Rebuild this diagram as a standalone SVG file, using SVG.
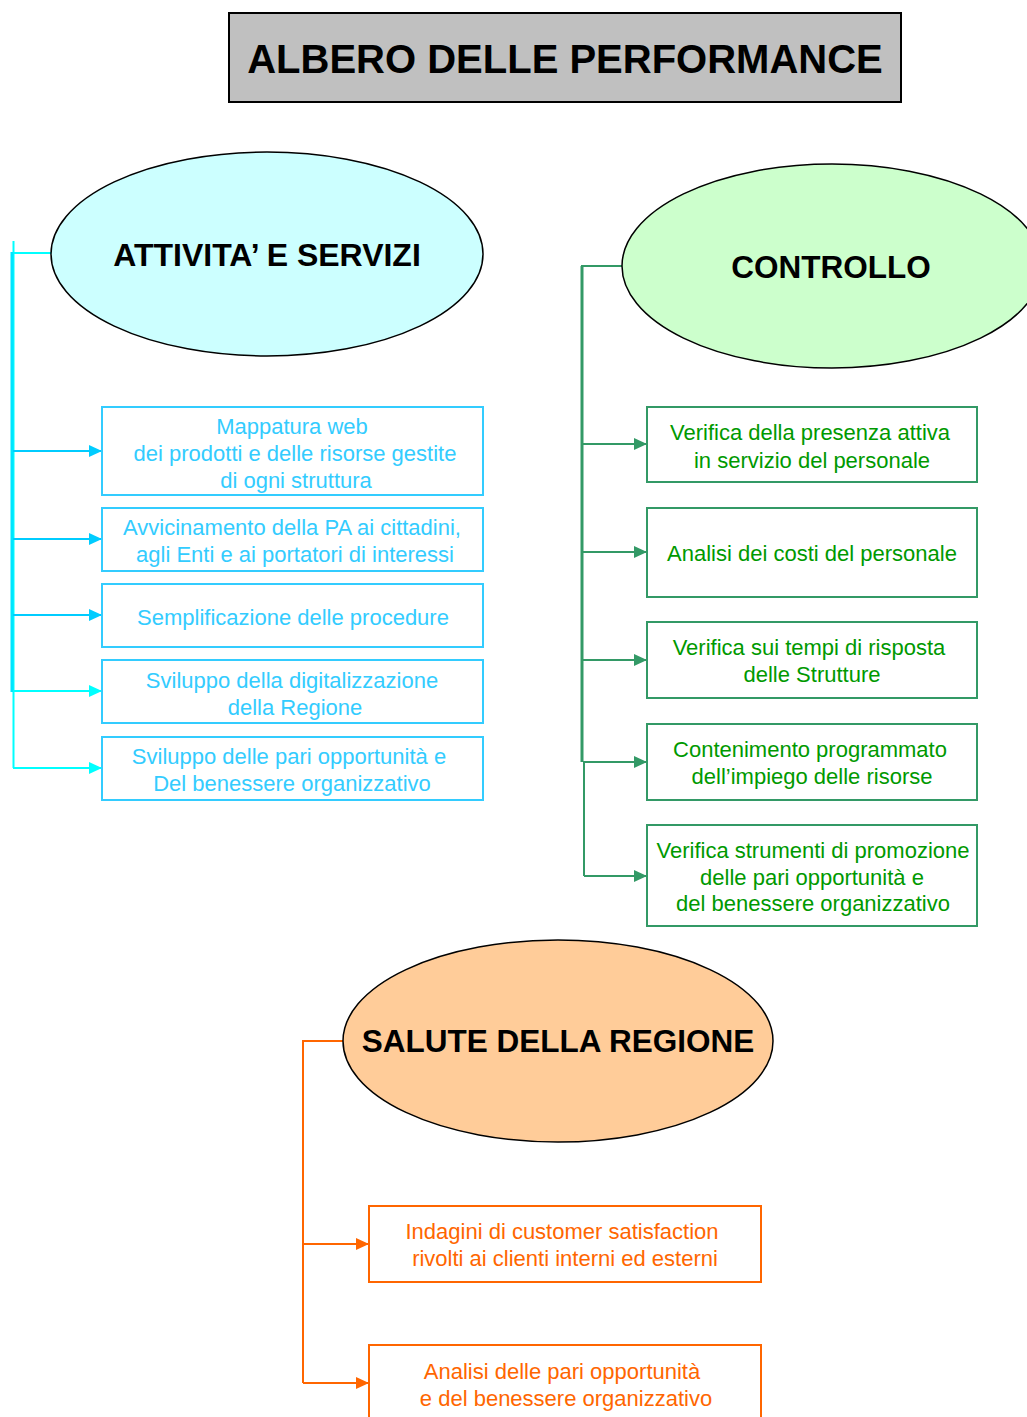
<svg xmlns="http://www.w3.org/2000/svg" width="1027" height="1417" viewBox="0 0 1027 1417">
<style>
text{font-family:"Liberation Sans",Arial,sans-serif;text-anchor:middle}
.t{font-size:22px}
.h{font-size:31.5px;font-weight:bold;fill:#000}
.c{fill:#33CCFF}
.g{fill:#009900}
.o{fill:#FF6600}
.bc{fill:#fff;stroke:#33CCFF;stroke-width:2}
.bg{fill:#fff;stroke:#339966;stroke-width:2}
.bo{fill:#fff;stroke:#FF6600;stroke-width:2}
.e{stroke:#000;stroke-width:1.5}
</style>
<defs>
<marker id="ac" viewBox="0 0 13 12" refX="13" refY="6" markerWidth="13" markerHeight="12" markerUnits="userSpaceOnUse" orient="auto"><path d="M0,0L13,6L0,12z" fill="#00CCFF"/></marker>
<marker id="ac2" viewBox="0 0 13 12" refX="13" refY="6" markerWidth="13" markerHeight="12" markerUnits="userSpaceOnUse" orient="auto"><path d="M0,0L13,6L0,12z" fill="#00FFFF"/></marker>
<marker id="ag" viewBox="0 0 13 12" refX="13" refY="6" markerWidth="13" markerHeight="12" markerUnits="userSpaceOnUse" orient="auto"><path d="M0,0L13,6L0,12z" fill="#339966"/></marker>
<marker id="ao" viewBox="0 0 13 12" refX="13" refY="6" markerWidth="13" markerHeight="12" markerUnits="userSpaceOnUse" orient="auto"><path d="M0,0L13,6L0,12z" fill="#FF6600"/></marker>
</defs>
<rect width="1027" height="1417" fill="#fff"/>
<g id="title">
<rect x="229" y="13" width="672" height="89" fill="#C0C0C0" stroke="#000" stroke-width="2"/>
<text x="565" y="73" style="font-size:40px;font-weight:bold">ALBERO DELLE PERFORMANCE</text>
</g>
<g id="connectors" fill="none">
<g stroke="#00FFFF" stroke-width="2">
<path d="M13.5,241V768"/>
<path d="M12,253H52"/>
</g>
<path d="M12,252V692" stroke="#00E5FF" stroke-width="3"/>
<g stroke-width="2">
<path d="M13,451H102" stroke="#00CCFF" marker-end="url(#ac)"/>
<path d="M13,539H102" stroke="#00CCFF" marker-end="url(#ac)"/>
<path d="M13,615H102" stroke="#00CCFF" marker-end="url(#ac)"/>
<path d="M13,691H102" stroke="#00FFFF" marker-end="url(#ac2)"/>
<path d="M13,768H102" stroke="#00FFFF" marker-end="url(#ac2)"/>
</g>
<g stroke="#339966">
<path d="M582,266V762" stroke-width="3"/>
<path d="M584,762V876" stroke-width="2"/>
<path d="M581,266H622" stroke-width="2"/>
<g stroke-width="2" marker-end="url(#ag)">
<path d="M583,444H647"/>
<path d="M583,552H647"/>
<path d="M583,660H647"/>
<path d="M583,762H647"/>
<path d="M584,876H647"/>
</g>
</g>
<g stroke="#FF6600" stroke-width="2">
<path d="M303,1041V1383"/>
<path d="M302,1041H343"/>
<path d="M303,1244H369" marker-end="url(#ao)"/>
<path d="M303,1383H369" marker-end="url(#ao)"/>
</g>
</g>
<g id="attivita">
<ellipse cx="267" cy="254" rx="216" ry="102" fill="#CCFFFF" class="e"/>
<text x="267" y="266" class="h" style="font-size:32px">ATTIVITA’ E SERVIZI</text>
</g>
<g id="controllo">
<ellipse cx="832" cy="266" rx="210" ry="102" fill="#CCFFCC" class="e"/>
<text x="831" y="278" class="h">CONTROLLO</text>
</g>
<g id="salute">
<ellipse cx="558" cy="1041" rx="215" ry="101" fill="#FFCC99" class="e"/>
<text x="558" y="1052" class="h">SALUTE DELLA REGIONE</text>
</g>
<g id="a1"><rect x="102" y="407" width="381" height="88" class="bc"/>
<text class="t c" x="292" y="434">Mappatura web</text>
<text class="t c" x="295" y="461">dei prodotti e delle risorse gestite</text>
<text class="t c" x="296" y="488">di ogni struttura</text></g>
<g id="a2"><rect x="102" y="508" width="381" height="63" class="bc"/>
<text class="t c" x="292" y="535">Avvicinamento della PA ai cittadini,</text>
<text class="t c" x="295" y="562">agli Enti e ai portatori di interessi</text></g>
<g id="a3"><rect x="102" y="584" width="381" height="63" class="bc"/>
<text class="t c" x="293" y="625">Semplificazione delle procedure</text></g>
<g id="a4"><rect x="102" y="660" width="381" height="63" class="bc"/>
<text class="t c" x="292" y="688">Sviluppo della digitalizzazione</text>
<text class="t c" x="295" y="715">della Regione</text></g>
<g id="a5"><rect x="102" y="737" width="381" height="63" class="bc"/>
<text class="t c" x="289" y="764">Sviluppo delle pari opportunità e</text>
<text class="t c" x="292" y="791">Del benessere organizzativo</text></g>
<g id="c1"><rect x="647" y="407" width="330" height="75" class="bg"/>
<text class="t g" x="810" y="440">Verifica della presenza attiva</text>
<text class="t g" x="812" y="468">in servizio del personale</text></g>
<g id="c2"><rect x="647" y="508" width="330" height="89" class="bg"/>
<text class="t g" x="812" y="561">Analisi dei costi del personale</text></g>
<g id="c3"><rect x="647" y="622" width="330" height="76" class="bg"/>
<text class="t g" x="809" y="655">Verifica sui tempi di risposta</text>
<text class="t g" x="812" y="682">delle Strutture</text></g>
<g id="c4"><rect x="647" y="724" width="330" height="76" class="bg"/>
<text class="t g" x="810" y="757">Contenimento programmato</text>
<text class="t g" x="812" y="784">dell’impiego delle risorse</text></g>
<g id="c5"><rect x="647" y="825" width="330" height="101" class="bg"/>
<text class="t g" x="813" y="858">Verifica strumenti di promozione</text>
<text class="t g" x="812" y="885">delle pari opportunità e</text>
<text class="t g" x="813" y="911">del benessere organizzativo</text></g>
<g id="s1"><rect x="369" y="1206" width="392" height="76" class="bo"/>
<text class="t o" x="562" y="1239">Indagini di customer satisfaction</text>
<text class="t o" x="565" y="1266">rivolti ai clienti interni ed esterni</text></g>
<g id="s2"><rect x="369" y="1345" width="392" height="90" class="bo"/>
<text class="t o" x="562" y="1379">Analisi delle pari opportunità</text>
<text class="t o" x="566" y="1406">e del benessere organizzativo</text></g>
</svg>
